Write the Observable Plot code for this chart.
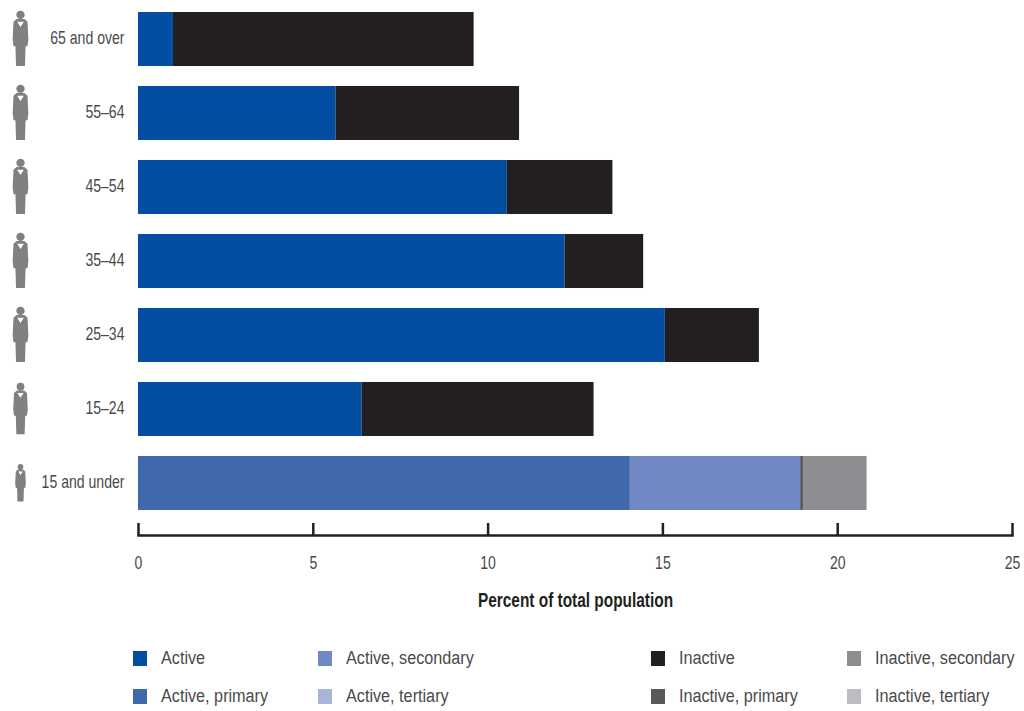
<!DOCTYPE html>
<html>
<head>
<meta charset="utf-8">
<script src="https://cdn.jsdelivr.net/npm/d3@7"></script>
<script src="https://cdn.jsdelivr.net/npm/@observablehq/plot@0.6"></script>
<style>
html,body{margin:0;padding:0;background:#fff;overflow:hidden}
body{width:1024px;height:711px;font-family:"Liberation Sans",sans-serif}
#legend{position:relative;height:91px;width:1024px;color:#4a4a4a;font-size:18px}
#legend .item{position:absolute;display:flex;align-items:center;white-space:nowrap}
#legend .sw{width:14px;height:15px;flex:none}
#legend .lab{display:inline-block;transform:scaleX(.9);transform-origin:left center}
</style>
</head>
<body>
<div id="chart"></div>
<div id="legend"></div>
<script>
const ages = ["65 and over","55–64","45–54","35–44","25–34","15–24","15 and under"];
const activeValues = [1.0,5.65,10.55,12.2,15.07,6.4,0];
const inactiveValues = [8.6,5.25,3.02,2.25,2.69,6.63,0];
const activePrimary = [0,0,0,0,0,0,14.07];
const activeSecondary = [0,0,0,0,0,0,4.87];
const activeTertiary = [0,0,0,0,0,0,0];
const inactivePrimary = [0,0,0,0,0,0,0.08];
const inactiveSecondary = [0,0,0,0,0,0,1.82];
const inactiveTertiary = [0,0,0,0,0,0,0];
const seriesNames = ["Active","Active, primary","Active, secondary","Active, tertiary","Inactive","Inactive, primary","Inactive, secondary","Inactive, tertiary"];
const seriesColors = ["#034ea2","#3f68ad","#7189c3","#aab4d8","#231f20","#58595b","#8e8e92","#bcbdc0"];
const seriesValues = [activeValues,activePrimary,activeSecondary,activeTertiary,inactiveValues,inactivePrimary,inactiveSecondary,inactiveTertiary];
const xTicks = [0,5,10,15,20,25];

const rows = seriesNames.flatMap((s,i)=>ages.map((a,j)=>({age:a,series:s,value:seriesValues[i][j]}))).filter(d=>d.value>0);

// person pictogram as a custom dot symbol, in unit coordinates scaled by radius
const person = {draw(c,size){
  const r=Math.sqrt(size/Math.PI);
  const P=(x,y)=>[x*r,y*r];
  const poly=(pts)=>{pts.forEach((p,i)=>{const q=P(p[0],p[1]); i?c.lineTo(q[0],q[1]):c.moveTo(q[0],q[1]);});c.closePath();};
  const h=P(0,-0.88);
  c.moveTo(h[0]+0.15*r,h[1]);
  c.arc(h[0],h[1],0.15*r,0,2*Math.PI);
  c.closePath();
  poly([[-0.14,-0.73],[0.14,-0.73],[0.25,-0.63],[0.28,0],[0.25,0.23],[0.18,0.25],[0.16,0.95],[-0.16,0.95],[-0.18,0.25],[-0.25,0.23],[-0.28,0],[-0.25,-0.63]]);
  // collar, opposite winding so it stays open
  poly([[-0.12,-0.63],[0,-0.45],[0.12,-0.63]]);
}};

const plot = Plot.plot({
  width:1024,height:620,
  marginLeft:138,marginRight:12,marginTop:12,marginBottom:85,
  style:{fontFamily:'"Liberation Sans",sans-serif',background:"#fff",overflow:"visible"},
  x:{domain:[0,25],ticks:xTicks},
  y:{domain:ages,paddingInner:0.27,paddingOuter:0.169,align:0,round:false,axis:null},
  color:{domain:seriesNames,range:seriesColors},
  marks:[
    Plot.barX(rows,{x:"value",y:"age",fill:"series",order:seriesNames}),
    Plot.frame({anchor:"bottom",stroke:"#231f20",strokeWidth:2.5}),
    Plot.axisX({ticks:xTicks,tickSize:-12,tickPadding:0,tickFormat:()=>"",label:null,stroke:"#231f20",strokeWidth:2.5}),
    Plot.axisX({ticks:xTicks,tickSize:0,tickPadding:20,fontSize:19,fill:"#4a4a4a",label:null}),
    Plot.text(["Percent of total population"],{frameAnchor:"bottom",dy:71,fontSize:20,fontWeight:"bold",fill:"#231f20"}),
    Plot.text(ages,{y:d=>d,text:d=>d,frameAnchor:"left",textAnchor:"end",dx:-14,dy:-1.5,fontSize:19,fill:"#4a4a4a"}),
    Plot.dot(ages.filter(a=>a!=="15 and under"&&a!=="15–24"),{y:d=>d,frameAnchor:"left",dx:-118,r:28,symbol:person,fill:"#808083"}),
    Plot.dot(["15–24"],{y:d=>d,frameAnchor:"left",dx:-118,r:26,symbol:person,fill:"#808083"}),
    Plot.dot(["15 and under"],{y:d=>d,frameAnchor:"left",dx:-118,r:19,symbol:person,fill:"#808083"})
  ]
});
document.getElementById("chart").appendChild(plot);

// the reference uses a condensed face: narrow the installed sans to match
d3.select(plot).selectAll("text").each(function(){
  const len=this.getComputedTextLength();
  if(!len) return;
  const ratio=this.textContent.startsWith("Percent")?0.77:0.74;
  this.setAttribute("textLength",(len*ratio).toFixed(1));
  this.setAttribute("lengthAdjust","spacingAndGlyphs");
});

const legendCols = [133,318,651,847];
const leg = document.getElementById("legend");
seriesNames.forEach((s,i)=>{
  const el=document.createElement("div");
  el.className="item";
  el.style.left=legendCols[Math.floor(i/2)]+"px";
  el.style.top=(i%2?66:28)+"px";
  el.style.gap="14px";
  const sw=document.createElement("span");
  sw.className="sw";sw.style.background=seriesColors[i];
  const t=document.createElement("span");t.className="lab";t.textContent=s;
  el.append(sw,t);leg.append(el);
});
</script>
</body>
</html>
